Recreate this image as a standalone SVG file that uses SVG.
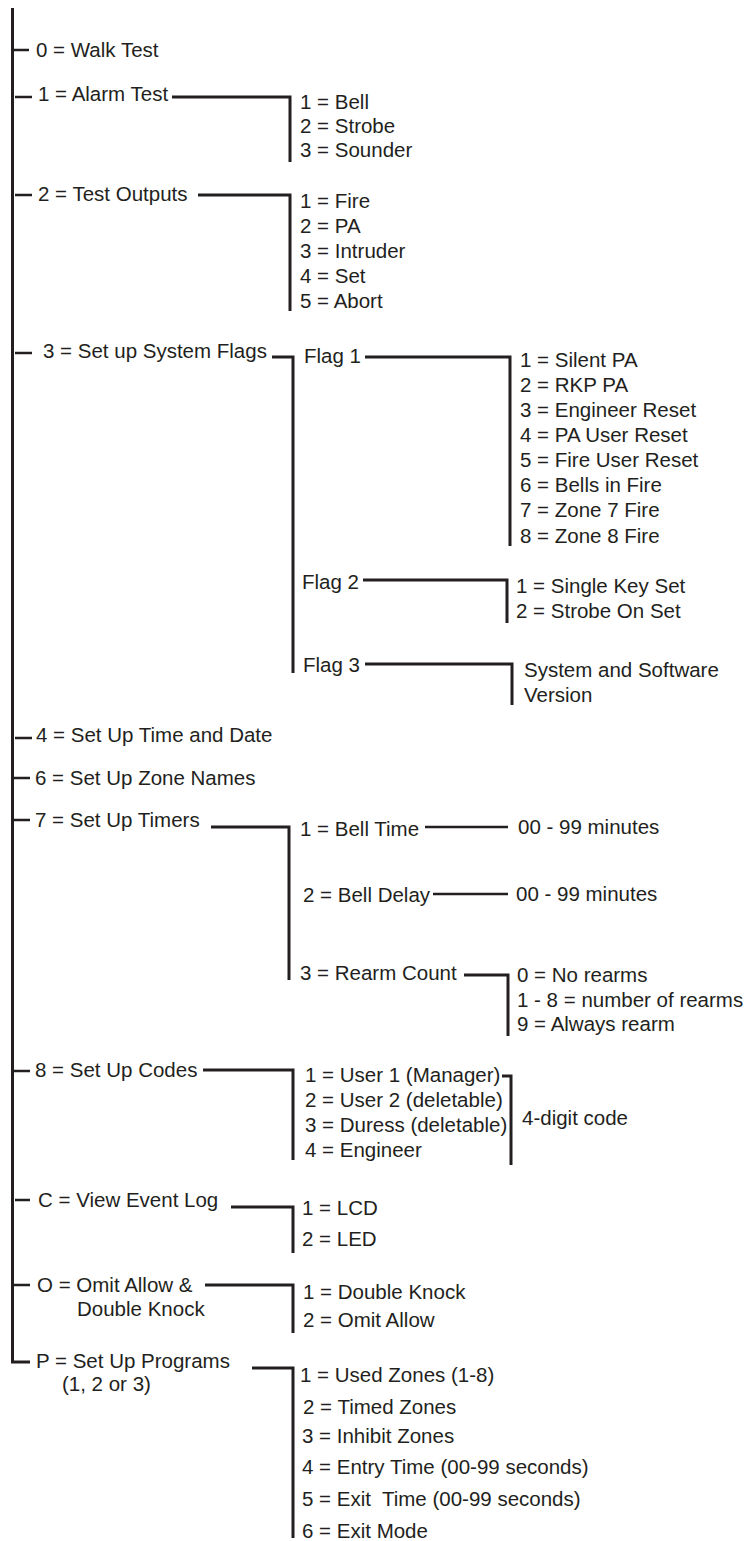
<svg xmlns="http://www.w3.org/2000/svg" width="747" height="1541" viewBox="0 0 747 1541">
<style>
text{font-family:"Liberation Sans",Arial,Helvetica,sans-serif;font-size:20.5px;fill:#231f20}
.pre{white-space:pre}
.l{stroke:#231f20;stroke-width:3;fill:none;stroke-linecap:butt}
.t{stroke:#231f20;stroke-width:2.5;fill:none}
</style>
<rect width="747" height="1541" fill="#ffffff"/>
<g id="connectors">
<path class="l" d="M12.5 8V1362H30"/>
<path class="t" d="M13 50H29M15 97H32M15 195H32M15 353H32M15 738H32M13 778H30M13 820H30M13 1071H30M15 1200H30M13 1285H30"/>
<path class="l" d="M172 97H290V162"/>
<path class="l" d="M198 195H290V311"/>
<path class="l" d="M272 357H293V673"/>
<path class="l" d="M365 357H510V546"/>
<path class="l" d="M363 580H507V623"/>
<path class="l" d="M365 664H512V705"/>
<path class="l" d="M211 827H289V980"/>
<path class="t" d="M425 827H508M433 894H508"/>
<path class="l" d="M464 975H508V1036"/>
<path class="l" d="M203 1070H293V1160"/>
<path class="l" d="M502 1076H511V1165"/>
<path class="l" d="M231 1207H293V1253"/>
<path class="l" d="M205 1285H293V1333"/>
<path class="l" d="M252 1368H293V1538"/>
</g>
<g id="n0"><text x="36" y="57">0 = Walk Test</text></g>
<g id="n1"><text x="38" y="101">1 = Alarm Test</text>
<text x="300" y="109">1 = Bell</text><text x="300" y="133">2 = Strobe</text><text x="300" y="157">3 = Sounder</text></g>
<g id="n2"><text x="38" y="201">2 = Test Outputs</text>
<text x="300" y="208">1 = Fire</text><text x="300" y="233">2 = PA</text><text x="300" y="258">3 = Intruder</text><text x="300" y="283">4 = Set</text><text x="300" y="308">5 = Abort</text></g>
<g id="n3"><text x="43" y="358">3 = Set up System Flags</text></g>
<g id="flag1"><text x="304" y="363">Flag 1</text>
<text x="520" y="367">1 = Silent PA</text><text x="520" y="392">2 = RKP PA</text><text x="520" y="417">3 = Engineer Reset</text><text x="520" y="442">4 = PA User Reset</text><text x="520" y="467">5 = Fire User Reset</text><text x="520" y="492">6 = Bells in Fire</text><text x="520" y="517">7 = Zone 7 Fire</text><text x="520" y="543">8 = Zone 8 Fire</text></g>
<g id="flag2"><text x="302" y="589">Flag 2</text>
<text x="516" y="593">1 = Single Key Set</text><text x="516" y="618">2 = Strobe On Set</text></g>
<g id="flag3"><text x="303" y="672">Flag 3</text>
<text x="524" y="677">System and Software</text><text x="524" y="702">Version</text></g>
<g id="n4"><text x="36" y="742">4 = Set Up Time and Date</text></g>
<g id="n6"><text x="35" y="785">6 = Set Up Zone Names</text></g>
<g id="n7"><text x="35" y="827">7 = Set Up Timers</text>
<text x="300" y="836">1 = Bell Time</text><text x="518" y="834">00 - 99 minutes</text>
<text x="303" y="902">2 = Bell Delay</text><text x="516" y="901">00 - 99 minutes</text>
<text x="300" y="980">3 = Rearm Count</text>
<text x="517" y="982">0 = No rearms</text><text x="517" y="1007">1 - 8 = number of rearms</text><text x="517" y="1031">9 = Always rearm</text></g>
<g id="n8"><text x="35" y="1077">8 = Set Up Codes</text>
<text x="305" y="1082">1 = User 1 (Manager)</text><text x="305" y="1107">2 = User 2 (deletable)</text><text x="305" y="1132">3 = Duress (deletable)</text><text x="305" y="1157">4 = Engineer</text>
<text x="522" y="1125">4-digit code</text></g>
<g id="nC"><text x="38" y="1207">C = View Event Log</text>
<text x="302" y="1215">1 = LCD</text><text x="302" y="1246">2 = LED</text></g>
<g id="nO"><text x="37" y="1292">O = Omit Allow &amp;</text><text x="77" y="1316">Double Knock</text>
<text x="303" y="1299">1 = Double Knock</text><text x="303" y="1327">2 = Omit Allow</text></g>
<g id="nP"><text x="36" y="1368">P = Set Up Programs</text><text x="62" y="1391">(1, 2 or 3)</text>
<text x="300" y="1382">1 = Used Zones (1-8)</text><text x="303" y="1414">2 = Timed Zones</text><text x="302" y="1443">3 = Inhibit Zones</text><text x="302" y="1474">4 = Entry Time (00-99 seconds)</text><text class="pre" x="302" y="1506">5 = Exit  Time (00-99 seconds)</text><text x="302" y="1538">6 = Exit Mode</text></g>
</svg>
